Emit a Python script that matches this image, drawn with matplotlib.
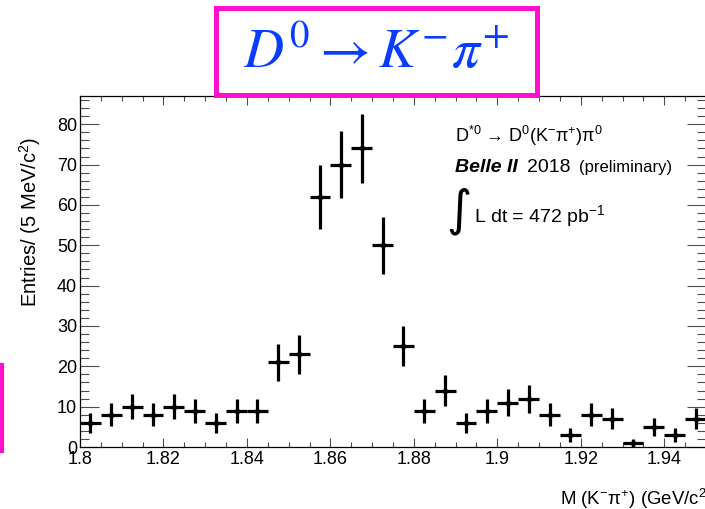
import numpy as np
import matplotlib
matplotlib.use("Agg")
import matplotlib.pyplot as plt
from matplotlib.patches import Rectangle
from matplotlib.ticker import MultipleLocator, FuncFormatter

plt.rcParams['font.family'] = ['Liberation Sans', 'DejaVu Sans']
plt.rcParams['mathtext.fontset'] = 'custom'
plt.rcParams['mathtext.rm'] = 'Liberation Sans'
plt.rcParams['mathtext.it'] = 'Liberation Sans:italic'

# M(K-pi+) histogram, 5 MeV bins from 1.80 to 1.95 GeV
bin_lo = 1.80
bin_w = 0.005
counts = [6, 8, 10, 8, 10, 9, 6, 9, 9, 21,
          23, 62, 70, 74, 50, 25, 9, 14, 6, 9,
          11, 12, 8, 3, 8, 7, 1, 5, 3, 7]
x_ticks = [1.80, 1.82, 1.84, 1.86, 1.88, 1.90, 1.92, 1.94]
y_ticks = [0, 10, 20, 30, 40, 50, 60, 70, 80]

counts = np.array(counts, dtype=float)
centers = bin_lo + bin_w * (np.arange(len(counts)) + 0.5)
errors = np.sqrt(counts)

W, H = 705, 509
fig = plt.figure(figsize=(W / 100, H / 100), dpi=100)
ax = fig.add_axes([80 / W, 62 / H, 626 / W, 351 / H])

ax.errorbar(centers, counts, xerr=bin_w / 2, yerr=errors, fmt='o', color='black',
            ms=3, elinewidth=2.3, capsize=0)

ax.set_xlim(1.80, 1.95)
ax.set_ylim(0, 87)
ax.set_xticks(x_ticks)
ax.set_yticks(y_ticks)
ax.xaxis.set_minor_locator(MultipleLocator(0.005))
ax.yaxis.set_minor_locator(MultipleLocator(2))
ax.xaxis.set_major_formatter(FuncFormatter(lambda v, p: f"{v:g}"))
ax.tick_params(which='both', direction='in', top=True, right=True,
               color='0.3', width=0.8, labelsize=13)
ax.tick_params(axis='x', which='major', length=6.5, pad=3)
ax.tick_params(axis='x', which='minor', length=3.6)
ax.tick_params(axis='y', which='major', length=13.5, pad=2)
ax.tick_params(axis='y', which='minor', length=6.8)
for s in ax.spines.values():
    s.set_linewidth(0.9)

# axis titles
fig.text(30 / W, 1 - 222 / H, r'Entries/ (5 MeV/c$^{2}$)', rotation=90,
         ha='center', va='center', fontsize=14.5)
fig.text(560 / W, 1 - 505 / H, r'M (K$^{-}$π$^{+}$) (GeV/c$^{2}$)',
         ha='left', va='baseline', fontsize=13.4)

# annotations
fig.text(455 / W, 1 - 142 / H, r'D$^{*0}$ → D$^{0}$(K$^{-}$π$^{+}$)π$^{0}$',
         ha='left', va='baseline', fontsize=13)
fig.text(455 / W, 1 - 172 / H, 'Belle II', ha='left', va='baseline',
         fontsize=14, fontweight='bold', fontstyle='italic')
fig.text(527 / W, 1 - 172 / H, '2018', ha='left', va='baseline', fontsize=14)
fig.text(579 / W, 1 - 172 / H, '(preliminary)', ha='left', va='baseline', fontsize=12)
fig.text(459 / W, 1 - 211 / H, '∫', ha='center', va='center', fontsize=35,
         family='DejaVu Sans')
fig.text(474 / W, 1 - 222 / H, r'L dt = 472 pb$^{-1}$', ha='left', va='baseline',
         fontsize=14)

# title box
fig.patches.append(Rectangle((216 / W, 1 - 95 / H), 321 / W, 87 / H,
                             transform=fig.transFigure, fill=False,
                             edgecolor='#ff10d0', linewidth=3.6, zorder=5))
fig.text(376 / W, 1 - 54 / H, r'$D^0 \rightarrow K^{-}\pi^{+}$', ha='center',
         va='center', fontsize=40, color='#0a3cff', math_fontfamily='stix')

# piece of another box at left edge
fig.patches.append(Rectangle((-40 / W, 1 - 451 / H), 42 / W, 86 / H,
                             transform=fig.transFigure, fill=False,
                             edgecolor='#ff10d0', linewidth=3.0))

fig.savefig("out.png", dpi=100)
